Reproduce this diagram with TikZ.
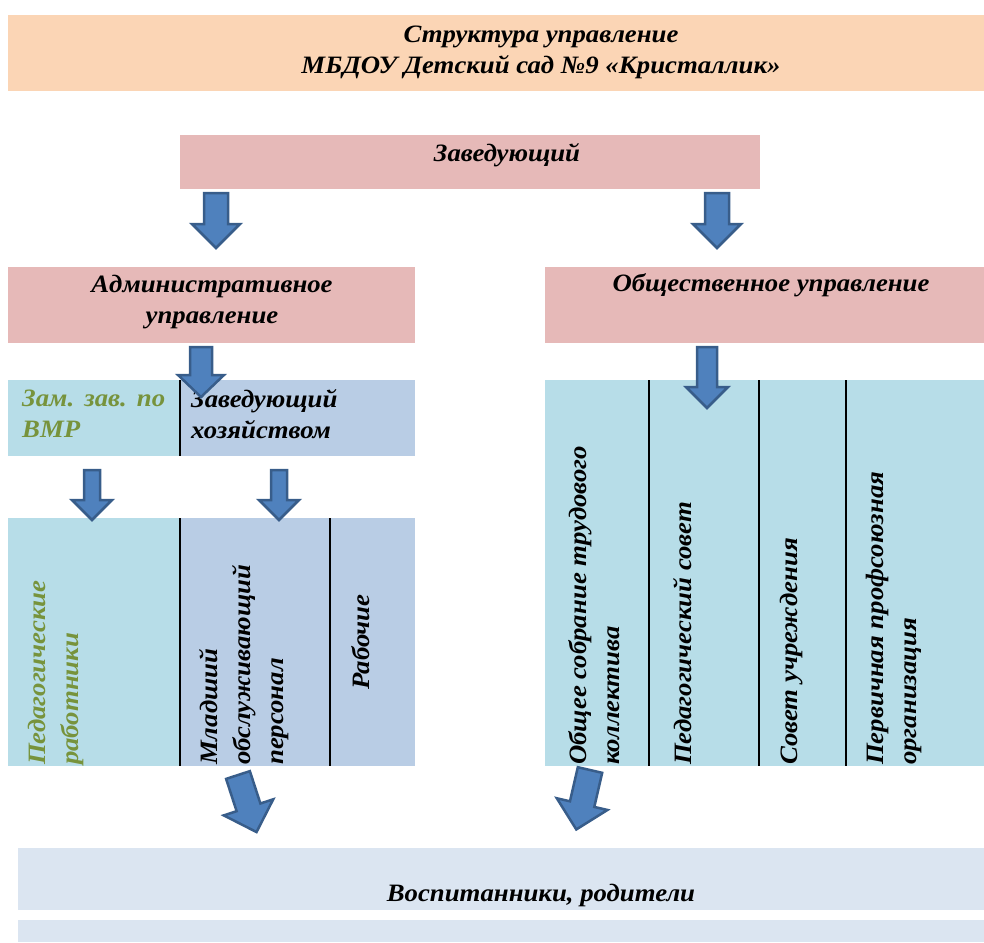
\documentclass[tikz,border=0pt]{standalone}
\usepackage{fontspec}
\setmainfont{Liberation Serif}[FakeStretch=1.07]
\definecolor{peach}{HTML}{FBD5B5}
\definecolor{pinkbox}{HTML}{E6B9B8}
\definecolor{cyanbox}{HTML}{B7DDE8}
\definecolor{bluebox}{HTML}{B9CDE5}
\definecolor{palebox}{HTML}{DBE5F1}
\definecolor{greentext}{HTML}{77933C}
\definecolor{arrfill}{HTML}{4F81BD}
\definecolor{arrdraw}{HTML}{385D8A}
\begin{document}
\begin{tikzpicture}[x=1pt,y=-1pt,
  box/.style={draw=none,inner sep=0pt,anchor=north west},
  txt/.style={inner sep=0pt,font=\fontsize{25}{31}\selectfont\bfseries\itshape},
  vtxt/.style={txt,rotate=90,anchor=west,align=left,font=\fontsize{25}{33}\selectfont\bfseries\itshape},
  sep/.style={draw=black,line width=2pt},
  arr/.style={fill=arrfill,draw=arrdraw,line width=2.5pt,line join=miter},
  pics/barrow/.style n args={4}{code={
    \draw[arr] (-#2,0) -- (-#2,#1-#4) -- (-#3,#1-#4) -- (0,#1) -- (#3,#1-#4) -- (#2,#1-#4) -- (#2,0) -- cycle;}}
]
\useasboundingbox (0,0) rectangle (984,942);
% boxes
\node[box,fill=peach,minimum width=976pt,minimum height=76pt] (title) at (8,15) {};
\node[box,fill=pinkbox,minimum width=580pt,minimum height=54pt] (zav) at (180,135) {};
\node[box,fill=pinkbox,minimum width=407pt,minimum height=76pt] (adm) at (8,267) {};
\node[box,fill=pinkbox,minimum width=439pt,minimum height=76pt] (obsh) at (545,267) {};
\node[box,fill=cyanbox,minimum width=172pt,minimum height=76pt] (zam) at (8,380) {};
\node[box,fill=bluebox,minimum width=235pt,minimum height=76pt] (hoz) at (180,380) {};
\node[box,fill=cyanbox,minimum width=439pt,minimum height=386pt] (org) at (545,380) {};
\node[box,fill=cyanbox,minimum width=172pt,minimum height=248pt] (ped) at (8,518) {};
\node[box,fill=bluebox,minimum width=150pt,minimum height=248pt] (mlad) at (180,518) {};
\node[box,fill=bluebox,minimum width=85pt,minimum height=248pt] (rab) at (330,518) {};
\node[box,fill=palebox,minimum width=966pt,minimum height=62pt] (vosp) at (18,848) {};
\node[box,fill=palebox,minimum width=966pt,minimum height=22pt] (vosp2) at (18,920) {};
% separators
\draw[sep] (zam.north east) -- (zam.south east);
\draw[sep] (ped.north east) -- (ped.south east);
\draw[sep] (mlad.north east) -- (mlad.south east);
\coordinate (s1t) at (649,380); \coordinate (s1b) at (649,766);
\coordinate (s2t) at (759,380); \coordinate (s2b) at (759,766);
\coordinate (s3t) at (846,380); \coordinate (s3b) at (846,766);
\draw[sep] (s1t) -- (s1b);
\draw[sep] (s2t) -- (s2b);
\draw[sep] (s3t) -- (s3b);
% texts
\node[txt,align=center] (ttitle) at (541,52) {Структура управление\\МБДОУ Детский сад №9 «Кристаллик»};
\node[txt] (tzav) at (507,155) {Заведующий};
\node[txt,align=center] (tadm) at (212,302) {Административное\\управление};
\node[txt] (tobsh) at (771,285) {Общественное управление};
\node[txt,align=left,anchor=west,text=greentext] (tzam) at (22,414) {\makebox[143pt][s]{Зам. зав. по}\\ВМР};
\node[txt,align=left,anchor=west] (thoz) at (191,414) {Заведующий\\хозяйством};
\node[txt] (tvosp) at (541,895) {Воспитанники, родители};
\node[vtxt,text=greentext] (tped) at (56,765) {Педагогические\\работники};
\node[vtxt] (tmlad) at (244,765) {Младший\\обслуживающий\\персонал};
\node[txt,rotate=90] (trab) at (361,642) {Рабочие};
\node[vtxt] (tobs) at (594,765) {Общее собрание трудового\\коллектива};
\node[vtxt] (tpsov) at (683,765) {Педагогический совет};
\node[vtxt] (tsov) at (792,765) {Совет учреждения};
\node[vtxt] (tperv) at (894,765) {Первичная профсоюзная\\организация};
% arrows
\pic (a1) at (216,193) {barrow={55}{12}{24}{24}};
\pic (a2) at (717,193) {barrow={55}{12}{24}{24}};
\pic (a3) at (201,347) {barrow={50}{11}{23}{22}};
\pic (a4) at (707,347) {barrow={61}{10}{21}{21}};
\pic (a5) at (92,470) {barrow={50}{8}{20}{20}};
\pic (a6) at (279,470) {barrow={50}{8}{20}{20}};
\pic[rotate=18] (a7) at (238,775) {barrow={60}{12.5}{26}{26}};
\pic[rotate=-13] (a8) at (590,770) {barrow={61}{12.5}{26}{26}};
\end{tikzpicture}
\end{document}
